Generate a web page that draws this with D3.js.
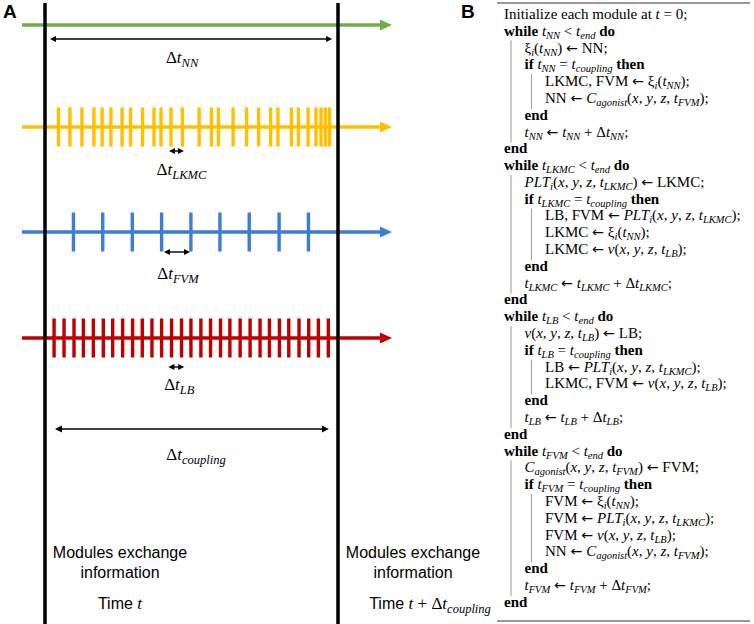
<!DOCTYPE html>
<html>
<head>
<meta charset="utf-8">
<script src="https://cdn.jsdelivr.net/npm/d3@7"></script>
<style>
  body { margin: 0; background: #fff; }
  text { white-space: pre; }
</style>
</head>
<body>
<svg id="fig"></svg>
<script>
// modules, top to bottom, and their colours
var modules = ["NN", "LKMC", "FVM", "LB"];
var moduleColors = ["#70AD47", "#FFC000", "#3B7DD8", "#C00000"];

// update instants inside one coupling window (window = 0..100)
var nnTimes = [];
var lkmcTimes = [4.6, 8.5, 12.6, 16.7, 19.5, 22.5, 26.3, 29.2, 33.3, 37.2, 39.6, 43.0, 46.9,
  52.6, 56.8, 59.2, 64.2, 68.8, 72.9, 77.0, 79.5, 84.1, 86.5, 89.8, 92.5, 94.2, 95.7, 97.1];
var fvmTimes = [9.7, 19.7, 29.8, 39.8, 49.8, 59.7, 69.7, 79.9, 89.9];
var lbTimes = [3.1, 6.5, 9.9, 13.1, 16.5, 19.9, 23.1, 26.5, 29.9, 33.2, 36.5, 39.8, 43.2, 46.6,
  49.8, 53.2, 56.5, 59.9, 63.1, 66.6, 70.0, 73.4, 76.6, 80.0, 83.2, 86.7, 90.0, 93.3, 96.7];

// time-step arrows: [label, from, to]
var stepSpans = [["NN", 1.7, 98.0], ["LKMC", 42.3, 47.4], ["FVM", 40.6, 49.5], ["LB", 42.1, 47.5]];
var couplingSpan = ["coupling", 3.4, 96.9];

// panel B pseudo-code lines and indent levels
var codeLines = [
  "Initialize each module at $t$ = 0;",
  "**while** $t$_{NN} < $t$_{end} **do**",
  "ξ_{i}($t$_{NN}) ← NN;",
  "**if** $t$_{NN} = $t$_{coupling} **then**",
  "LKMC, FVM ← ξ_{i}($t$_{NN});",
  "NN ← $C$_{agonist}($x$, $y$, $z$, $t$_{FVM});",
  "**end**",
  "$t$_{NN} ← $t$_{NN} + Δ$t$_{NN};",
  "**end**",
  "**while** $t$_{LKMC} < $t$_{end} **do**",
  "$PLT$_{i}($x$, $y$, $z$, $t$_{LKMC}) ← LKMC;",
  "**if** $t$_{LKMC} = $t$_{coupling} **then**",
  "LB, FVM ← $PLT$_{i}($x$, $y$, $z$, $t$_{LKMC});",
  "LKMC ← ξ_{i}($t$_{NN});",
  "LKMC ← $v$($x$, $y$, $z$, $t$_{LB});",
  "**end**",
  "$t$_{LKMC} ← $t$_{LKMC} + Δ$t$_{LKMC};",
  "**end**",
  "**while** $t$_{LB} < $t$_{end} **do**",
  "$v$($x$, $y$, $z$, $t$_{LB}) ← LB;",
  "**if** $t$_{LB} = $t$_{coupling} **then**",
  "LB ← $PLT$_{i}($x$, $y$, $z$, $t$_{LKMC});",
  "LKMC, FVM ← $v$($x$, $y$, $z$, $t$_{LB});",
  "**end**",
  "$t$_{LB} ← $t$_{LB} + Δ$t$_{LB};",
  "**end**",
  "**while** $t$_{FVM} < $t$_{end} **do**",
  "$C$_{agonist}($x$, $y$, $z$, $t$_{FVM}) ← FVM;",
  "**if** $t$_{FVM} = $t$_{coupling} **then**",
  "FVM ← ξ_{i}($t$_{NN});",
  "FVM ← $PLT$_{i}($x$, $y$, $z$, $t$_{LKMC});",
  "FVM ← $v$($x$, $y$, $z$, $t$_{LB});",
  "NN ← $C$_{agonist}($x$, $y$, $z$, $t$_{FVM});",
  "**end**",
  "$t$_{FVM} ← $t$_{FVM} + Δ$t$_{FVM};",
  "**end**"
];
var codeIndent = [0, 0, 1, 1, 2, 2, 1, 1, 0,
  0, 1, 1, 2, 2, 2, 1, 1, 0,
  0, 1, 1, 2, 2, 1, 1, 0,
  0, 1, 1, 2, 2, 2, 2, 1, 1, 0];

var W = 754, H = 624;
var serif = "'Liberation Serif', 'Times New Roman', serif";
var sans = "'Liberation Sans', Arial, sans-serif";

var svg = d3.select("#fig").attr("width", W).attr("height", H);

// ---------- panel A ----------
var x = d3.scaleLinear().domain([0, 100]).range([45, 338]);
var y = d3.scaleOrdinal().domain(modules).range([25, 127, 232, 338]);
var color = d3.scaleOrdinal().domain(modules).range(moduleColors);
var times = { NN: nnTimes, LKMC: lkmcTimes, FVM: fvmTimes, LB: lbTimes };

var lineX0 = x.range()[0] - 23, lineX1 = x.range()[1] + 54;
var tickHalf = 19.5;
// per row: arrow offset below the timeline, label baseline offset, label shift
var rowLayout = {
  NN: { arrow: 14, label: 38, dx: -9 },
  LKMC: { arrow: 24, label: 48, dx: 5 },
  FVM: { arrow: 20, label: 47, dx: 1 },
  LB: { arrow: 29, label: 52, dx: 3 }
};

svg.append("text").attr("x", 3).attr("y", 18)
  .style("font-family", sans).style("font-weight", "bold").style("font-size", "19px")
  .text("A");

var rows = svg.selectAll("g.row").data(modules).enter().append("g")
  .attr("class", "row");

rows.append("line")
  .attr("x1", lineX0).attr("x2", lineX1 - 9)
  .attr("y1", function(d) { return y(d); })
  .attr("y2", function(d) { return y(d); })
  .attr("stroke", function(d) { return color(d); })
  .attr("stroke-width", 3.5);

rows.append("path")
  .attr("d", function(d) {
    var yy = y(d);
    return "M" + lineX1 + "," + yy + "L" + (lineX1 - 12) + "," + (yy - 5.5) +
      "L" + (lineX1 - 12) + "," + (yy + 5.5) + "Z";
  })
  .attr("fill", function(d) { return color(d); });

rows.each(function(m) {
  d3.select(this).selectAll("rect.tick").data(times[m]).enter().append("rect")
    .attr("class", "tick")
    .attr("x", function(t) { return x(t) - 1.7; })
    .attr("width", 3.4)
    .attr("y", y(m) - tickHalf)
    .attr("height", tickHalf * 2)
    .attr("fill", color(m));
});

function doubleArrow(g, x1, x2, yy, head) {
  g.append("line").attr("x1", x1 + 2).attr("x2", x2 - 2)
    .attr("y1", yy).attr("y2", yy)
    .attr("stroke", "#000").attr("stroke-width", 1.4);
  g.append("path")
    .attr("d", "M" + x1 + "," + yy + "l" + head + "," + (-head / 2) + "v" + head + "Z" +
      "M" + x2 + "," + yy + "l" + (-head) + "," + (-head / 2) + "v" + head + "Z")
    .attr("fill", "#000");
}

function dtLabel(g, cx, baseline, sub) {
  var t = g.append("text").attr("x", cx).attr("y", baseline)
    .attr("text-anchor", "middle")
    .style("font-family", serif).style("font-size", "17px");
  t.append("tspan").text("Δ");
  t.append("tspan").style("font-style", "italic").text("t");
  t.append("tspan").attr("dy", 4).style("font-style", "italic").style("font-size", "12.5px").text(sub);
}

var spans = svg.selectAll("g.span").data(stepSpans).enter().append("g").attr("class", "span");
spans.each(function(s) {
  var lay = rowLayout[s[0]];
  var g = d3.select(this);
  doubleArrow(g, x(s[1]), x(s[2]), y(s[0]) + lay.arrow, 6);
  dtLabel(g, (x(s[1]) + x(s[2])) / 2 + lay.dx, y(s[0]) + lay.label, s[0]);
});

var cg = svg.append("g");
doubleArrow(cg, x(couplingSpan[1]), x(couplingSpan[2]), 429, 7);
dtLabel(cg, (x(couplingSpan[1]) + x(couplingSpan[2])) / 2 + 4, 460, couplingSpan[0]);

// coupling boundaries
svg.selectAll("line.bound").data(x.domain()).enter().append("line")
  .attr("class", "bound")
  .attr("x1", function(d) { return x(d); }).attr("x2", function(d) { return x(d); })
  .attr("y1", 3).attr("y2", H)
  .attr("stroke", "#000").attr("stroke-width", 3.5);

function exchangeText(cx, timeParts) {
  var g = svg.append("g").style("font-family", sans).style("font-size", "16px");
  g.append("text").attr("x", cx).attr("y", 558).attr("text-anchor", "middle").text("Modules exchange");
  g.append("text").attr("x", cx).attr("y", 578).attr("text-anchor", "middle").text("information");
  var tt = g.append("text").attr("x", cx + timeParts.dx).attr("y", 609).attr("text-anchor", "middle");
  tt.append("tspan").text("Time ");
  tt.append("tspan").style("font-family", serif).style("font-style", "italic").style("font-size", "17px").text("t");
  if (timeParts.sub) {
    tt.append("tspan").style("font-family", serif).style("font-size", "17px").text(" + Δ");
    tt.append("tspan").style("font-family", serif).style("font-style", "italic").style("font-size", "17px").text("t");
    tt.append("tspan").attr("dy", 4).style("font-family", serif).style("font-style", "italic")
      .style("font-size", "12.5px").text(timeParts.sub);
  }
}
exchangeText(x(0) + 75, { dx: 0 });
exchangeText(x(100) + 75, { dx: 17, sub: couplingSpan[0] });

// ---------- panel B ----------
var codeX0 = 504, indentStep = 20.5, codeSize = 15;
var codeY = d3.scaleLinear().domain([0, codeLines.length - 1]).range([19, 606.7]);

svg.append("text").attr("x", 461).attr("y", 18)
  .style("font-family", sans).style("font-weight", "bold").style("font-size", "19px")
  .text("B");

svg.append("line").attr("x1", 497).attr("x2", 750).attr("y1", 3).attr("y2", 3)
  .attr("stroke", "#333").attr("stroke-width", 1.2);
svg.append("line").attr("x1", 497).attr("x2", 750).attr("y1", 621).attr("y2", 621)
  .attr("stroke", "#333").attr("stroke-width", 1.2);

// block bars: runs of lines indented at or beyond a level
[1, 2].forEach(function(level) {
  var start = -1;
  codeIndent.concat([0]).forEach(function(lv, i) {
    if (lv >= level && start < 0) start = i;
    if (lv < level && start >= 0) {
      svg.append("line")
        .attr("x1", codeX0 + (level - 1) * indentStep + 7)
        .attr("x2", codeX0 + (level - 1) * indentStep + 7)
        .attr("y1", codeY(start) - 12).attr("y2", codeY(i - 1) + 6)
        .attr("stroke", "#a0a0a0").attr("stroke-width", 1.1);
      start = -1;
    }
  });
});

function richText(sel, str, size) {
  var parts = str.split(/(\*\*[^*]+\*\*|\$[^$]+\$|_\{[^}]+\}|←)/).filter(function(p) { return p.length; });
  var down = false;
  parts.forEach(function(p) {
    var ts = sel.append("tspan");
    if (p.indexOf("_{") === 0) {
      ts.text(p.slice(2, -1)).style("font-style", "italic").style("font-size", (size * 0.7) + "px");
      if (!down) { ts.attr("dy", size * 0.2); down = true; }
      return;
    }
    if (down) { ts.attr("dy", -size * 0.2); down = false; }
    if (p === "←") ts.text(p).style("font-family", "'DejaVu Sans', sans-serif").style("font-size", (size * 0.95) + "px");
    else if (p.indexOf("**") === 0) ts.text(p.slice(2, -2)).style("font-weight", "bold");
    else if (p.indexOf("$") === 0) ts.text(p.slice(1, -1)).style("font-style", "italic");
    else ts.text(p);
  });
}

svg.selectAll("text.code").data(codeLines).enter().append("text")
  .attr("class", "code")
  .attr("x", function(d, i) { return codeX0 + codeIndent[i] * indentStep; })
  .attr("y", function(d, i) { return codeY(i); })
  .style("font-family", serif).style("font-size", codeSize + "px")
  .each(function(d) { richText(d3.select(this), d, codeSize); });
</script>
</body>
</html>
